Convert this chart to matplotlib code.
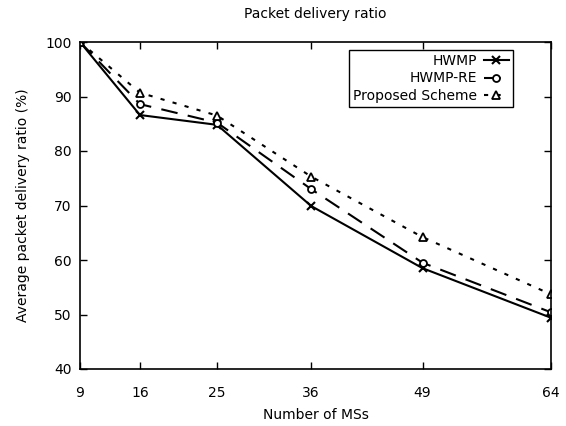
import matplotlib.pyplot as plt

# Data
ms = [9, 16, 25, 36, 49, 64]
hwmp = [100, 86.6, 84.8, 69.9, 58.5, 49.4]
hwmp_re = [100, 88.6, 85.2, 73.0, 59.5, 50.4]
proposed = [100, 90.7, 86.5, 75.3, 64.2, 53.7]

plt.rcParams['font.family'] = ['DejaVu Sans']
plt.rcParams['font.size'] = 10

fig = plt.figure(figsize=(5.66, 4.26), dpi=100)
ax = fig.add_axes([80 / 566, 1 - 369 / 426, 471 / 566, 327 / 426])

ax.plot(ms, hwmp, color="black", lw=1.5, ls="-", marker="x", ms=6, mew=1.5, label="HWMP")
ax.plot(ms, hwmp_re, color="black", lw=1.5, ls=(0, (8, 5)), marker="o", ms=5,
        mfc="white", mew=1.3, label="HWMP-RE")
ax.plot(ms, proposed, color="black", lw=1.5, ls=(0, (2, 4)), marker="^", ms=5.5,
        mfc="white", mew=1.3, label="Proposed Scheme")

ax.set_xlim(9, 64)
ax.set_ylim(40, 100)
ax.set_xticks(ms)
ax.set_yticks(range(40, 101, 10))
ax.tick_params(direction="in", top=True, right=True, length=5, width=1)
ax.tick_params(axis="x", pad=12)
ax.tick_params(axis="y", pad=6)
for s in ax.spines.values():
    s.set_linewidth(1.2)

ax.set_xlabel("Number of MSs", labelpad=6)
ax.set_ylabel("Average packet delivery ratio (%)", labelpad=11)
ax.set_title("Packet delivery ratio", fontsize=10, pad=17)

leg = ax.legend(loc="upper right", markerfirst=False, fancybox=False, framealpha=1,
                edgecolor="black", handlelength=1.8, borderaxespad=0,
                bbox_to_anchor=(0.919, 0.976), labelspacing=0.25, fontsize=10,
                borderpad=0.3, handletextpad=0.5)
leg.get_frame().set_linewidth(1.0)

fig.savefig("out.png", dpi=100)
